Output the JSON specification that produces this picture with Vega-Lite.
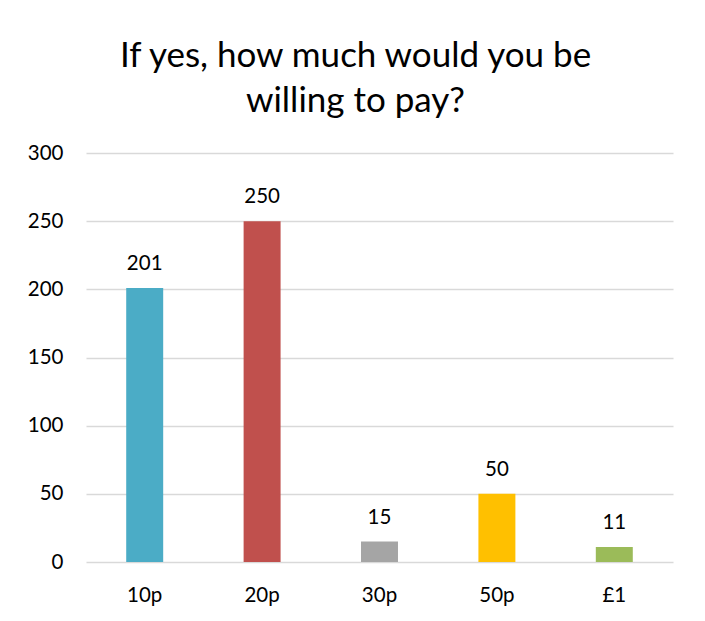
{
  "$schema": "https://vega.github.io/schema/vega-lite/v6.json",
  "autosize": {"type": "none"},
  "width": 587,
  "height": 409,
  "padding": {"left": 86, "top": 153, "right": 32, "bottom": 59},
  "background": "white",
  "config": {
    "view": {"stroke": null},
    "font": "Lato"
  },
  "title": {
    "text": ["If yes, how much would you be", "willing to pay?"],
    "font": "Lato",
    "fontSize": 35,
    "fontWeight": "normal",
    "color": "#000000",
    "lineHeight": 45,
    "anchor": "middle",
    "frame": "group",
    "dx": -24,
    "offset": 24
  },
  "data": {
    "values": [
      {"price": "10p", "count": 201},
      {"price": "20p", "count": 250},
      {"price": "30p", "count": 15},
      {"price": "50p", "count": 50},
      {"price": "£1", "count": 11}
    ]
  },
  "encoding": {
    "x": {
      "field": "price",
      "type": "nominal",
      "sort": null,
      "scale": {"paddingInner": 0.685, "paddingOuter": 0.3425},
      "axis": {
        "title": null,
        "labelAngle": 0,
        "ticks": false,
        "domain": false,
        "labelPadding": 23,
        "labelFont": "Lato",
        "labelFontSize": 20.5,
        "labelColor": "#000000"
      }
    },
    "y": {
      "field": "count",
      "type": "quantitative",
      "scale": {"domain": [0, 300], "nice": false},
      "axis": {
        "title": null,
        "values": [0, 50, 100, 150, 200, 250, 300],
        "ticks": false,
        "domain": false,
        "labelPadding": 23,
        "labelFont": "Lato",
        "labelFontSize": 20.5,
        "labelColor": "#000000",
        "gridColor": "#D9D9D9",
        "gridWidth": 1.5
      }
    }
  },
  "layer": [
    {
      "mark": {"type": "bar"},
      "encoding": {
        "color": {
          "field": "price",
          "type": "nominal",
          "sort": null,
          "scale": {
            "domain": ["10p", "20p", "30p", "50p", "£1"],
            "range": ["#4BACC6", "#C0504D", "#A5A5A5", "#FFC000", "#9BBB59"]
          },
          "legend": null
        }
      }
    },
    {
      "mark": {
        "type": "text",
        "baseline": "bottom",
        "dy": -14,
        "font": "Lato",
        "fontSize": 20.5,
        "color": "#000000"
      },
      "encoding": {
        "text": {"field": "count", "type": "quantitative"}
      }
    }
  ]
}
